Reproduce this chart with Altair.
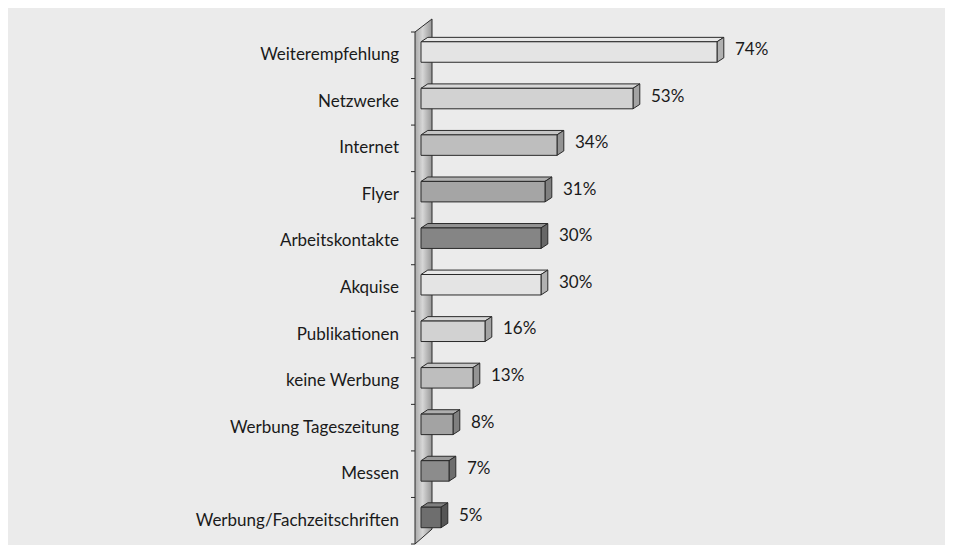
import altair as alt
import pandas as pd

# ---- data ----
categories = ["Weiterempfehlung", "Netzwerke", "Internet", "Flyer", "Arbeitskontakte",
              "Akquise", "Publikationen", "keine Werbung", "Werbung Tageszeitung",
              "Messen", "Werbung/Fachzeitschriften"]
values = [74, 53, 34, 31, 30, 30, 16, 13, 8, 7, 5]
value_labels = ["74%", "53%", "34%", "31%", "30%", "30%", "16%", "13%", "8%", "7%", "5%"]

# ---- styles ----
front_colors = ["#e4e4e4", "#d2d2d2", "#bebebe", "#a5a5a5", "#858585",
                "#e4e4e4", "#d2d2d2", "#bebebe", "#a3a3a3", "#8c8c8c", "#6e6e6e"]
FONT = "Lato"
EDGE = "#2a2a2a"
DX = 1.7      # depth in x (percent units)
DY = 0.095    # depth in y (row units)
TOP_OFF, BOT_OFF = 0.21, 0.65   # front face inside each row band


def shade(hexc, f):
    h = hexc.lstrip("#")
    r, g, b = (int(h[i:i + 2], 16) for i in (0, 2, 4))
    if f >= 1:
        r, g, b = (int(c + (255 - c) * (f - 1)) for c in (r, g, b))
    else:
        r, g, b = (int(c * f) for c in (r, g, b))
    return "#%02x%02x%02x" % (r, g, b)


front_rows, top_rows, side_rows, lab_rows = [], [], [], []
for i, (c, v, lab, col) in enumerate(zip(categories, values, value_labels, front_colors)):
    y0, y1 = i + TOP_OFF, i + BOT_OFF
    front_rows.append(dict(cat=c, x=0, x2=v, y=y0, y2=y1, fill=col))
    tcol = shade(col, 1.12)
    top_rows += [dict(cat=c, y=y0, x=0, x2=v, fill=tcol),
                 dict(cat=c, y=y0 - DY, x=DX, x2=v + DX, fill=tcol)]
    scol = shade(col, 0.78)
    side_rows += [dict(cat=c, x=v, y=y0, y2=y1, fill=scol),
                  dict(cat=c, x=v + DX, y=y0 - DY, y2=y1 - DY, fill=scol)]
    lab_rows.append(dict(cat=c, ymid=i + 0.5, yval=i + 0.39, v=v, lab=lab))

front_df = pd.DataFrame(front_rows)
top_df = pd.DataFrame(top_rows)
side_df = pd.DataFrame(side_rows)
lab_df = pd.DataFrame(lab_rows)
n = len(categories)
tick_df = pd.DataFrame({"y": list(range(n + 1))})
wall_df = pd.DataFrame({"x": [-1.5, 2.75], "y": [0, -0.28], "y2": [n, n - 0.32]})

xs = alt.Scale(domain=[-1.5, 130], nice=False, zero=False)
ys = alt.Scale(domain=[0, n], reverse=True, nice=False, zero=False)

wall = alt.Chart(wall_df).mark_area(
    orient="vertical", stroke=EDGE, strokeWidth=1,
    fill=alt.Gradient(gradient="linear", x1=0, x2=1, y1=0, y2=0,
                      stops=[alt.GradientStop(color="#a9a9a9", offset=0),
                             alt.GradientStop(color="#d6d6d6", offset=0.45),
                             alt.GradientStop(color="#969696", offset=1)])
).encode(x=alt.X("x:Q", scale=xs, axis=None),
         y=alt.Y("y:Q", scale=ys, axis=None), y2="y2:Q")

ticks = alt.Chart(tick_df).mark_rule(color=EDGE, strokeWidth=1).encode(
    x=alt.value(-4), x2=alt.value(0), y=alt.Y("y:Q", scale=ys, axis=None))

tops = alt.Chart(top_df).mark_area(orient="horizontal", stroke=EDGE, strokeWidth=1).encode(
    y=alt.Y("y:Q", scale=ys, axis=None),
    x=alt.X("x:Q", scale=xs, axis=None), x2="x2:Q",
    fill=alt.Fill("fill:N", scale=None), detail="cat:N")

sides = alt.Chart(side_df).mark_area(orient="vertical", stroke=EDGE, strokeWidth=1).encode(
    x=alt.X("x:Q", scale=xs, axis=None),
    y=alt.Y("y:Q", scale=ys, axis=None), y2="y2:Q",
    fill=alt.Fill("fill:N", scale=None), detail="cat:N")

fronts = alt.Chart(front_df).mark_rect(stroke=EDGE, strokeWidth=1).encode(
    x=alt.X("x:Q", scale=xs, axis=None), x2="x2:Q",
    y=alt.Y("y:Q", scale=ys, axis=None), y2="y2:Q",
    fill=alt.Fill("fill:N", scale=None))

cat_labels = alt.Chart(lab_df).mark_text(
    align="right", baseline="middle", font=FONT, fontSize=17, color="#1a1a1a"
).encode(x=alt.value(-16), y=alt.Y("ymid:Q", scale=ys, axis=None), text="cat:N")

val_labels = alt.Chart(lab_df).mark_text(
    align="left", baseline="middle", dx=18, font=FONT, fontSize=17, color="#1a1a1a"
).encode(x=alt.X("v:Q", scale=xs, axis=None),
         y=alt.Y("yval:Q", scale=ys, axis=None), text="lab:N")

chart = alt.layer(wall, ticks, tops, sides, fronts, cat_labels, val_labels).properties(
    width=526, height=512,
    padding={"left": 407, "top": 24, "right": 4, "bottom": 1},
    autosize=alt.AutoSizeParams(type="none"),
    background="#ebebeb",
).configure_view(stroke=None)

chart.save("out.html", embed_options={"renderer": "svg", "actions": False})
